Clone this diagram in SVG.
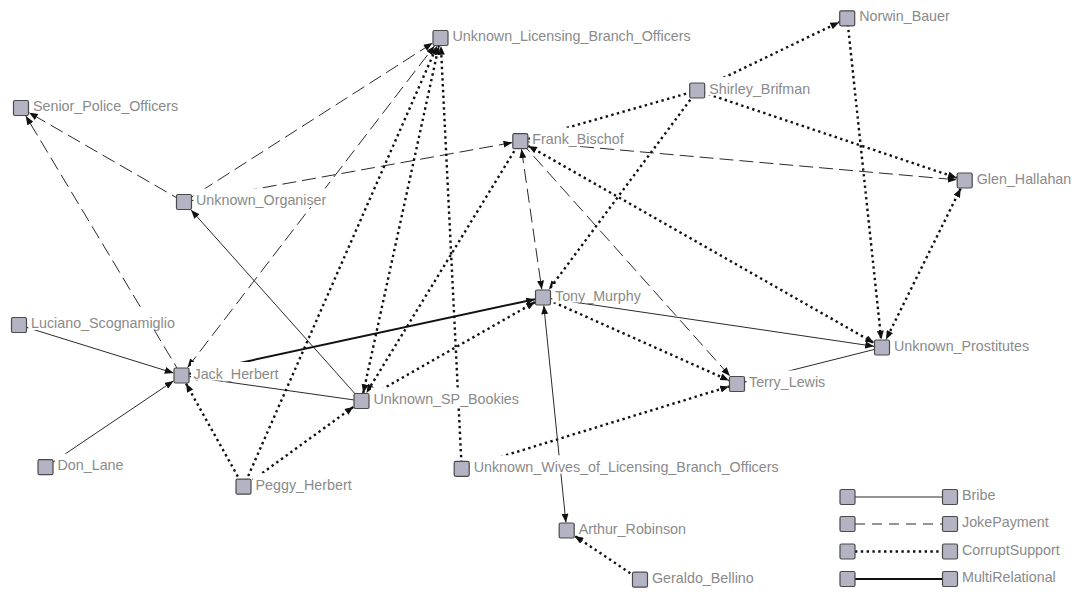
<svg xmlns="http://www.w3.org/2000/svg" width="1078" height="592" viewBox="0 0 1078 592">
<style>
.bribe{stroke:#2a2a2a;stroke-width:1;fill:none}
.joke{stroke:#2a2a2a;stroke-width:1;fill:none;stroke-dasharray:14 6}
.corrupt{stroke:#111;stroke-width:2.4;fill:none;stroke-dasharray:2.4 3.4}
.multi{stroke:#111;stroke-width:2;fill:none}
.sq{fill:#b3b3c3;stroke:#4a4a4a;stroke-width:1.2}
.bg{fill:#fff}
.lbl{font-family:"Liberation Sans",Arial,sans-serif;font-size:14.3px;fill:#8a8a8a}
</style>
<defs>
<marker id="a" viewBox="0 0 10 8" refX="10" refY="4" markerWidth="9" markerHeight="7" orient="auto-start-reverse" markerUnits="userSpaceOnUse"><path d="M0,0 L10,4 L0,8 z" fill="#111"/></marker>
</defs>
<rect width="1078" height="592" fill="#fff"/>
<g id="connectors">
<path class="joke" d="M184,202 L29,112.6" marker-end="url(#a)"/>
<path class="joke" d="M181.5,375.5 L25.8,116" marker-end="url(#a)"/>
<path class="joke" d="M184,202 L432.5,43.1" marker-end="url(#a)"/>
<path class="joke" d="M187.6,367.5 L434.4,46" marker-start="url(#a)" marker-end="url(#a)"/>
<path class="joke" d="M184,202 L512.3,142.6" marker-end="url(#a)"/>
<path class="bribe" d="M361.5,401 L191.1,210" marker-end="url(#a)"/>
<path class="bribe" d="M361.5,401 L189.5,376.6" marker-end="url(#a)"/>
<path class="multi" d="M181.5,375.5 L535,299.2" marker-end="url(#a)"/>
<path class="bribe" d="M19,325 L173.5,373" marker-end="url(#a)"/>
<path class="bribe" d="M45.5,467.2 L173.5,380.9" marker-end="url(#a)"/>
<path class="corrupt" d="M243.5,486.7 L186,383.5" marker-end="url(#a)"/>
<path class="corrupt" d="M243.5,486.7 L437,46" marker-end="url(#a)"/>
<path class="corrupt" d="M243.5,486.7 L353.5,406.8" marker-end="url(#a)"/>
<path class="corrupt" d="M363.2,393 L438.8,46" marker-start="url(#a)" marker-end="url(#a)"/>
<path class="corrupt" d="M520.3,141.2 L366.4,393" marker-end="url(#a)"/>
<path class="corrupt" d="M361.5,401 L535,302.1" marker-end="url(#a)"/>
<path class="corrupt" d="M461.7,468.8 L440.9,46" marker-end="url(#a)"/>
<path class="corrupt" d="M461.7,468.8 L729,386.5" marker-end="url(#a)"/>
<path class="corrupt" d="M697.2,90.5 L528.3,138.9" marker-end="url(#a)"/>
<path class="joke" d="M520.3,141.2 L956.7,179.8" marker-end="url(#a)"/>
<path class="corrupt" d="M528.3,145.8 L874,342.9" marker-start="url(#a)" marker-end="url(#a)"/>
<path class="joke" d="M521.5,149.2 L541.8,289.5" marker-start="url(#a)" marker-end="url(#a)"/>
<path class="joke" d="M520.3,141.2 L729.9,376" marker-end="url(#a)"/>
<path class="corrupt" d="M697.2,90.5 L549,289.5" marker-end="url(#a)"/>
<path class="bribe" d="M543,297.5 L874,346.3" marker-end="url(#a)"/>
<path class="corrupt" d="M543,297.5 L729,380.4" marker-end="url(#a)"/>
<path class="bribe" d="M543.8,305.5 L565.9,522.5" marker-start="url(#a)" marker-end="url(#a)"/>
<path class="bribe" d="M882,347.5 L745,382" marker-end="url(#a)"/>
<path class="corrupt" d="M697.2,90.5 L956.7,177.8" marker-end="url(#a)"/>
<path class="corrupt" d="M960.7,188.5 L886,339.5" marker-start="url(#a)" marker-end="url(#a)"/>
<path class="corrupt" d="M697.2,90.5 L839.2,22.2" marker-end="url(#a)"/>
<path class="corrupt" d="M847.2,18.3 L881.2,339.5" marker-end="url(#a)"/>
<path class="corrupt" d="M640,579.7 L574.7,535.9" marker-end="url(#a)"/>
</g>
<g id="node-ULBO"><rect class="bg" x="450" y="24.5" width="243" height="18.5"/><rect class="sq" x="433" y="30.5" width="15" height="15" rx="1.5"/><text class="lbl" x="452.5" y="41">Unknown_Licensing_Branch_Officers</text></g>
<g id="node-SPO"><rect class="bg" x="30.5" y="94.5" width="150" height="18.5"/><rect class="sq" x="13.5" y="100.5" width="15" height="15" rx="1.5"/><text class="lbl" x="33" y="111">Senior_Police_Officers</text></g>
<g id="node-ORG"><rect class="bg" x="193.5" y="188.5" width="135" height="18.5"/><rect class="sq" x="176.5" y="194.5" width="15" height="15" rx="1.5"/><text class="lbl" x="196" y="205">Unknown_Organiser</text></g>
<g id="node-FRK"><rect class="bg" x="529.8" y="127.7" width="96" height="18.5"/><rect class="sq" x="512.8" y="133.7" width="15" height="15" rx="1.5"/><text class="lbl" x="532.3" y="144.2">Frank_Bischof</text></g>
<g id="node-SHB"><rect class="bg" x="706.7" y="77" width="106" height="18.5"/><rect class="sq" x="689.7" y="83" width="15" height="15" rx="1.5"/><text class="lbl" x="709.2" y="93.5">Shirley_Brifman</text></g>
<g id="node-NOR"><rect class="bg" x="856.7" y="4.8" width="96" height="18.5"/><rect class="sq" x="839.7" y="10.8" width="15" height="15" rx="1.5"/><text class="lbl" x="859.2" y="21.3">Norwin_Bauer</text></g>
<g id="node-GLN"><rect class="bg" x="974.2" y="167" width="100" height="18.5"/><rect class="sq" x="957.2" y="173" width="15" height="15" rx="1.5"/><text class="lbl" x="976.7" y="183.5">Glen_Hallahan</text></g>
<g id="node-LUC"><rect class="bg" x="28.5" y="311.5" width="149" height="18.5"/><rect class="sq" x="11.5" y="317.5" width="15" height="15" rx="1.5"/><text class="lbl" x="31" y="328">Luciano_Scognamiglio</text></g>
<g id="node-JCK"><rect class="bg" x="191" y="362" width="90" height="18.5"/><rect class="sq" x="174" y="368" width="15" height="15" rx="1.5"/><text class="lbl" x="193.5" y="378.5">Jack_Herbert</text></g>
<g id="node-DON"><rect class="bg" x="55" y="453.7" width="71" height="18.5"/><rect class="sq" x="38" y="459.7" width="15" height="15" rx="1.5"/><text class="lbl" x="57.5" y="470.2">Don_Lane</text></g>
<g id="node-PEG"><rect class="bg" x="253" y="473.2" width="101" height="18.5"/><rect class="sq" x="236" y="479.2" width="15" height="15" rx="1.5"/><text class="lbl" x="255.5" y="489.7">Peggy_Herbert</text></g>
<g id="node-SPB"><rect class="bg" x="371" y="387.5" width="150" height="18.5"/><rect class="sq" x="354" y="393.5" width="15" height="15" rx="1.5"/><text class="lbl" x="373.5" y="404">Unknown_SP_Bookies</text></g>
<g id="node-TNY"><rect class="bg" x="552.5" y="284" width="92" height="18.5"/><rect class="sq" x="535.5" y="290" width="15" height="15" rx="1.5"/><text class="lbl" x="555" y="300.5">Tony_Murphy</text></g>
<g id="node-WIV"><rect class="bg" x="471.2" y="455.3" width="310" height="18.5"/><rect class="sq" x="454.2" y="461.3" width="15" height="15" rx="1.5"/><text class="lbl" x="473.7" y="471.8">Unknown_Wives_of_Licensing_Branch_Officers</text></g>
<g id="node-PRO"><rect class="bg" x="891.5" y="334" width="140" height="18.5"/><rect class="sq" x="874.5" y="340" width="15" height="15" rx="1.5"/><text class="lbl" x="894" y="350.5">Unknown_Prostitutes</text></g>
<g id="node-TRY"><rect class="bg" x="746.5" y="370.5" width="83" height="18.5"/><rect class="sq" x="729.5" y="376.5" width="15" height="15" rx="1.5"/><text class="lbl" x="749" y="387">Terry_Lewis</text></g>
<g id="node-ART"><rect class="bg" x="576.2" y="517" width="112" height="18.5"/><rect class="sq" x="559.2" y="523" width="15" height="15" rx="1.5"/><text class="lbl" x="578.7" y="533.5">Arthur_Robinson</text></g>
<g id="node-GER"><rect class="bg" x="649.5" y="566.2" width="107" height="18.5"/><rect class="sq" x="632.5" y="572.2" width="15" height="15" rx="1.5"/><text class="lbl" x="652" y="582.7">Geraldo_Bellino</text></g>
<g id="legend">
<path class="bribe" d="M855,497 L943,497"/>
<path class="joke" d="M855,524 L943,524" style="stroke-dasharray:10 7"/>
<path class="corrupt" d="M855,551.5 L943,551.5"/>
<path class="multi" d="M855,579 L943,579"/>
<rect class="sq" x="840" y="489.5" width="15" height="15" rx="1.5"/><rect class="sq" x="942.5" y="489.5" width="15" height="15" rx="1.5"/>
<rect class="sq" x="840" y="516.5" width="15" height="15" rx="1.5"/><rect class="sq" x="942.5" y="516.5" width="15" height="15" rx="1.5"/>
<rect class="sq" x="840" y="544" width="15" height="15" rx="1.5"/><rect class="sq" x="942.5" y="544" width="15" height="15" rx="1.5"/>
<rect class="sq" x="840" y="571.5" width="15" height="15" rx="1.5"/><rect class="sq" x="942.5" y="571.5" width="15" height="15" rx="1.5"/>
<text class="lbl" x="962" y="500">Bribe</text>
<text class="lbl" x="962" y="527">JokePayment</text>
<text class="lbl" x="962" y="554.5">CorruptSupport</text>
<text class="lbl" x="962" y="582">MultiRelational</text>
</g>
</svg>
